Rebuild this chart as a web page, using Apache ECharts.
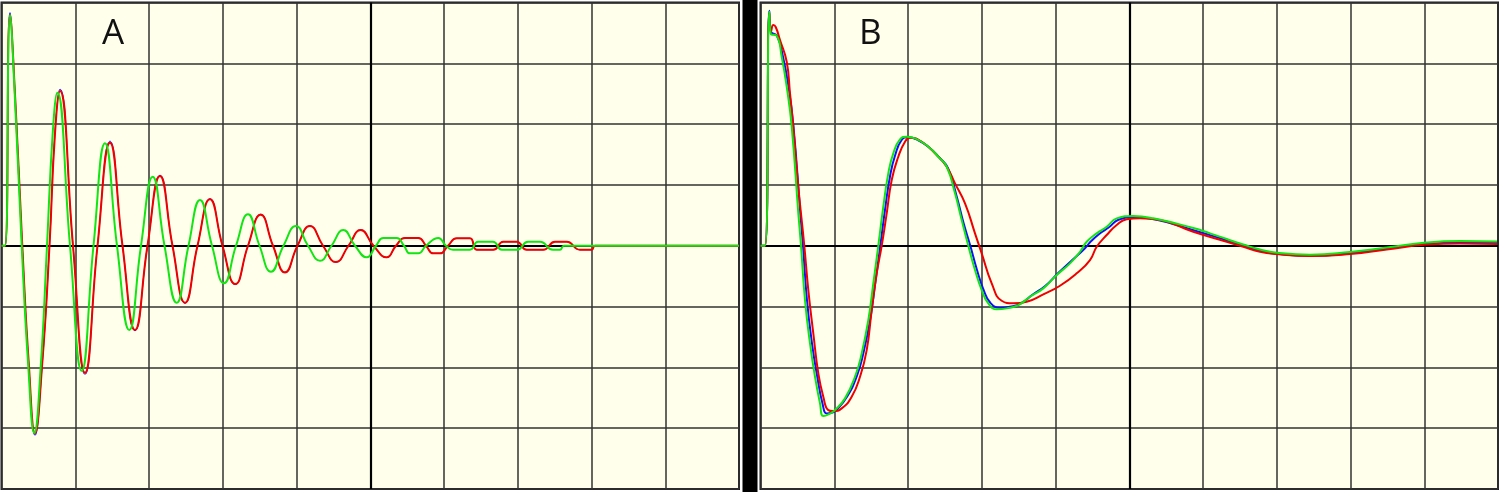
<!DOCTYPE html>
<html>
<head>
<meta charset="utf-8">
<script src="https://cdn.jsdelivr.net/npm/echarts@6/dist/echarts.min.js"></script>
<style>
  html, body { margin: 0; padding: 0; background: #fff; }
  #chart { width: 1500px; height: 492px; }
</style>
</head>
<body>
<div id="chart"></div>
<script>
// time in samples (10 div = 737.5), amplitude in counts (8 div = 486.4)
const xDiv = 73.75;
const yDiv = 60.8;
const panelLabels = ['A', 'B'];

// panel A traces [sample, amplitude]
const greenA = [
  [0, 0], [3.5, 0], [8.5, 230.7], [13.5, 145.7], [20.2, 0], [26.8, -121], [32.8, -187.3],
  [39.2, -121], [45.5, 0], [51.2, 112.4], [55.8, 153], [68.5, 0], [80.2, -125], [92, 0],
  [103.5, 102.4], [115.5, 0], [127.8, -84.3], [139.5, 0], [151.2, 69], [163, 0],
  [175.2, -57], [187, 0], [198.5, 45.7], [210.5, 0], [222.5, -37.6], [234.5, 0],
  [246.5, 31.4], [258, 0], [269.5, -26], [282, 0], [294.5, 19.7], [306.5, 0],
  [318.5, -15], [330, 0], [341.8, 15.7], [353.5, 0], [365.2, -11.6], [374.5, 0],
  [381.8, 7.7], [395.2, 7.7], [402.5, 0], [408.5, -7.6], [416.8, -7.6], [424.5, 0],
  [436.8, 7.7], [444.5, 0], [451.5, -4], [468.5, -4], [476.5, 4], [491.5, 4],
  [500.5, -4], [515.5, -4], [526.5, 4], [538.5, 4], [551.5, -4], [558.5, -4],
  [562.5, 0], [737.5, 0]
];
const redA = [
  [0, 0], [3.5, 0], [8.5, 230.7], [13.8, 145.7], [20.8, 0], [27.5, -121], [33.5, -187.6],
  [40.5, -121], [48, 0], [53.5, 112.4], [58.5, 154.7], [71.5, 0], [83.5, -127], [96, 0],
  [108.5, 103], [121, 0], [133.5, -84.3], [146, 0], [158.5, 69.7], [171, 0],
  [183.5, -57], [196, 0], [208.5, 46.4], [221, 0], [233.8, -38.3], [246.5, 0],
  [259.2, 31], [271.5, 0], [283.5, -26.6], [296, 0], [308.5, 19.7], [321.5, 0],
  [334.5, -16.3], [347, 0], [359.2, 15.7], [372, 0], [385.2, -11.6], [394.5, 0],
  [403.5, 7.7], [416.8, 7.7], [424.5, 0], [431.8, -7.6], [438.5, -7.6], [446.5, 0],
  [455.2, 7.4], [468.5, 7.4], [475.2, -4], [491.8, -4], [501.8, 4], [515.2, 4],
  [525.2, -4], [541.8, -4], [553.5, 4], [565.2, 4], [578.5, -4], [590.2, -4],
  [593.5, 0], [737.5, 0]
];
const blueA = [
  [0, 0], [3.5, 0], [8.5, 233], [13.8, 146.5], [20.8, 0], [27.5, -122], [33.5, -189.5],
  [40.5, -122], [48, 0], [53.5, 113.5], [58.5, 156.5], [71.5, 0], [83.5, -128.5], [96, 0],
  [108.5, 104.5], [121, 0], [133.5, -85], [146, 0], [158.5, 70.5], [171, 0],
  [183.5, -57.5], [196, 0], [208.5, 47], [221, 0], [233.8, -38.8], [246.5, 0],
  [259.2, 31.5], [271.5, 0], [283.5, -27], [296, 0], [308.5, 20], [321.5, 0],
  [334.5, -16.5], [347, 0], [359.2, 16], [372, 0], [385.2, -11.8], [394.5, 0],
  [403.5, 7.7], [416.8, 7.7], [424.5, 0], [431.8, -7.6], [438.5, -7.6], [446.5, 0],
  [455.2, 7.4], [468.5, 7.4], [475.2, -4], [491.8, -4], [501.8, 4], [515.2, 4],
  [525.2, -4], [541.8, -4], [553.5, 4], [565.2, 4], [578.5, -4], [590.2, -4],
  [593.5, 0], [737.5, 0]
];

// panel B traces [sample, amplitude]
const greenB = [
  [0, 0], [4.5, 0], [8.8, 234], [10.2, 212], [16.2, 210], [21.2, 189], [26.2, 159],
  [31.2, 119], [37.8, 32.7], [40.5, 0], [44.5, -54.3], [49.5, -97.6], [54.5, -131],
  [59.5, -157.6], [62.8, -170.3], [68.5, -168.3], [74.5, -164.3], [84.5, -152.6],
  [94.5, -131], [101.2, -107.6], [107.8, -74.3], [112.8, -37.6], [117.8, 0],
  [122.8, 39], [127.8, 72.4], [132.8, 92.4], [139.5, 106.4], [146.2, 109],
  [154.5, 107.4], [167.8, 99], [177.8, 89], [186.2, 79], [194.5, 52.4], [201.2, 25.7],
  [207.8, 0], [214.5, -24.3], [221.2, -44.3], [227.8, -57.6], [236.2, -63.6],
  [246.2, -62.6], [257.8, -59.3], [269.5, -51], [282.8, -42.6], [296.2, -29.3],
  [309.5, -17.6], [319.5, -6], [326.2, 4], [336.2, 12.4], [346.2, 19], [356.2, 27.4],
  [372.8, 29.7], [392.8, 27.4], [432.8, 17.7], [449.5, 12.4], [466.2, 6.7],
  [482.8, 1.2], [499.5, -3.8], [516.2, -7], [549.5, -9], [589.5, -6.3], [626.2, -1.8],
  [666.2, 3.2], [699.5, 4.7], [736.5, 4.2]
];
const redB = [
  [0, 0], [4.5, 0], [8.8, 233], [10.5, 214], [12.8, 220.7], [15.2, 218.7], [19.5, 205.7],
  [26.2, 184], [29.5, 152.4], [32.8, 119], [37.8, 59], [43.8, 0], [47.8, -44.3],
  [52.8, -87.6], [57.8, -127.6], [62.8, -151], [67.8, -164.3], [72.8, -165.3],
  [81.2, -162.6], [91.2, -151], [99.5, -131], [106.2, -104.3], [111.2, -64.3],
  [116.2, -27.6], [121.2, 0], [126.2, 32.4], [131.2, 65.7], [137.8, 89], [144.5, 104],
  [149.5, 108], [161.2, 104], [176.2, 90.7], [186.2, 79], [194.5, 62.4], [204.5, 42.4],
  [214.5, 12.4], [221.2, -7.6], [231.2, -37.6], [241.2, -55], [252.8, -57.6],
  [266.2, -56], [282.8, -48.6], [299.5, -40], [316.2, -27.6], [329.5, -14.3],
  [336.2, -1], [346.2, 10.7], [356.2, 20.7], [366.2, 26.4], [379.5, 27.4], [399.5, 25.7],
  [432.8, 14], [466.2, 4], [482.8, -1], [499.5, -6], [516.2, -8.3], [549.5, -10.3],
  [589.5, -8.3], [626.2, -3.8], [666.2, 1.2], [699.5, 2.2], [736.5, 1.7]
];
const blueB = [
  [0, 0], [4.5, 0], [8.8, 235], [10.5, 214], [16.5, 210], [22.5, 189], [28, 159],
  [33, 119], [39.8, 32.7], [42.5, 0], [46.5, -54.3], [51.5, -97.6], [56.8, -131],
  [62, -157.6], [66.2, -167.6], [71, -167], [76.5, -163.5], [86.5, -151], [96.5, -130],
  [103.2, -106], [109.8, -73], [114.8, -37], [119.8, 0], [124.8, 38], [129.8, 71],
  [134.8, 91], [141, 105.5], [147.5, 108.5], [156, 106.5], [169, 98], [179, 88],
  [187.5, 77.5], [196, 50], [203, 23], [209.8, 0], [216.5, -24.3], [223.2, -44.3],
  [229.8, -57], [239.5, -62], [249.5, -61], [260.5, -57.6], [272, -49], [285, -40],
  [298, -27], [311, -15], [324.5, -2.5], [330, 4], [339, 12], [348.5, 18.5], [358, 26],
  [374, 28.5], [394, 26.5], [433, 15.5], [466, 5.5], [482.8, 0], [499.5, -5],
  [516.2, -8], [549.5, -10], [589.5, -7.5], [626.2, -3], [666.2, 2], [699.5, 3],
  [736.5, 2.8]
];

const BG = '#ffffeb';
const GRID_LINE = '#333333';
const COLORS = { blue: '#1010ff', red: '#ee0000', green: '#12e612' };

const chart = echarts.init(document.getElementById('chart'), null, { renderer: 'canvas' });

function xAxisFor(i) {
    return {
        type: 'value',
        gridIndex: i,
        min: 0,
        max: xDiv * 10,
        interval: xDiv,
        axisLine: { show: false },
        axisTick: { show: false },
        axisLabel: { show: false },
        splitLine: { show: true, lineStyle: { color: GRID_LINE, width: 1.5 } }
    };
}

function yAxisFor(i) {
    return {
        type: 'value',
        gridIndex: i,
        min: -yDiv * 4,
        max: yDiv * 4,
        interval: yDiv,
        axisLine: { show: false },
        axisTick: { show: false },
        axisLabel: { show: false },
        splitLine: { show: true, lineStyle: { color: GRID_LINE, width: 1.5 } }
    };
}

function trace(data, color, width, panel, withCenter) {
    const s = {
        type: 'line',
        xAxisIndex: panel,
        yAxisIndex: panel,
        data: data,
        symbol: 'none',
        smooth: 0.5,
        lineStyle: { color: color, width: width },
        silent: true
    };
    if (withCenter) {
        // heavier centre cross of the graticule
        s.markLine = {
            z: 1,
            silent: true,
            symbol: 'none',
            label: { show: false },
            lineStyle: { color: '#000', width: 2.2, type: 'solid' },
            data: [{ xAxis: xDiv * 5 }, { yAxis: 0 }]
        };
    }
    return s;
}

const option = {
    backgroundColor: '#fff',
    animation: false,
    title: panelLabels.map((t, i) => ({
        text: t,
        left: i === 0 ? 102 : 859,
        top: 17,
        padding: 0,
        textStyle: { fontSize: 35, fontWeight: 'normal', fontFamily: 'Open Sans', color: '#111' }
    })),
    graphic: [{
        type: 'rect',
        shape: { x: 742.5, y: 0, width: 15, height: 492 },
        style: { fill: '#000' },
        silent: true
    }],
    grid: [
        { left: 1.5, top: 2.5, width: 737.5, height: 486.5, show: true, backgroundColor: BG, borderColor: '#1a1a1a', borderWidth: 2 },
        { left: 760.5, top: 2.5, width: 737.5, height: 486.5, show: true, backgroundColor: BG, borderColor: '#1a1a1a', borderWidth: 2 }
    ],
    xAxis: [xAxisFor(0), xAxisFor(1)],
    yAxis: [yAxisFor(0), yAxisFor(1)],
    series: [
        trace(blueA, COLORS.blue, 1, 0, true),
        trace(redA, COLORS.red, 2, 0, false),
        trace(greenA, COLORS.green, 2, 0, false),
        trace(blueB, COLORS.blue, 2, 1, true),
        trace(redB, COLORS.red, 2, 1, false),
        trace(greenB, COLORS.green, 2, 1, false)
    ]
};

chart.setOption(option);
</script>
</body>
</html>
